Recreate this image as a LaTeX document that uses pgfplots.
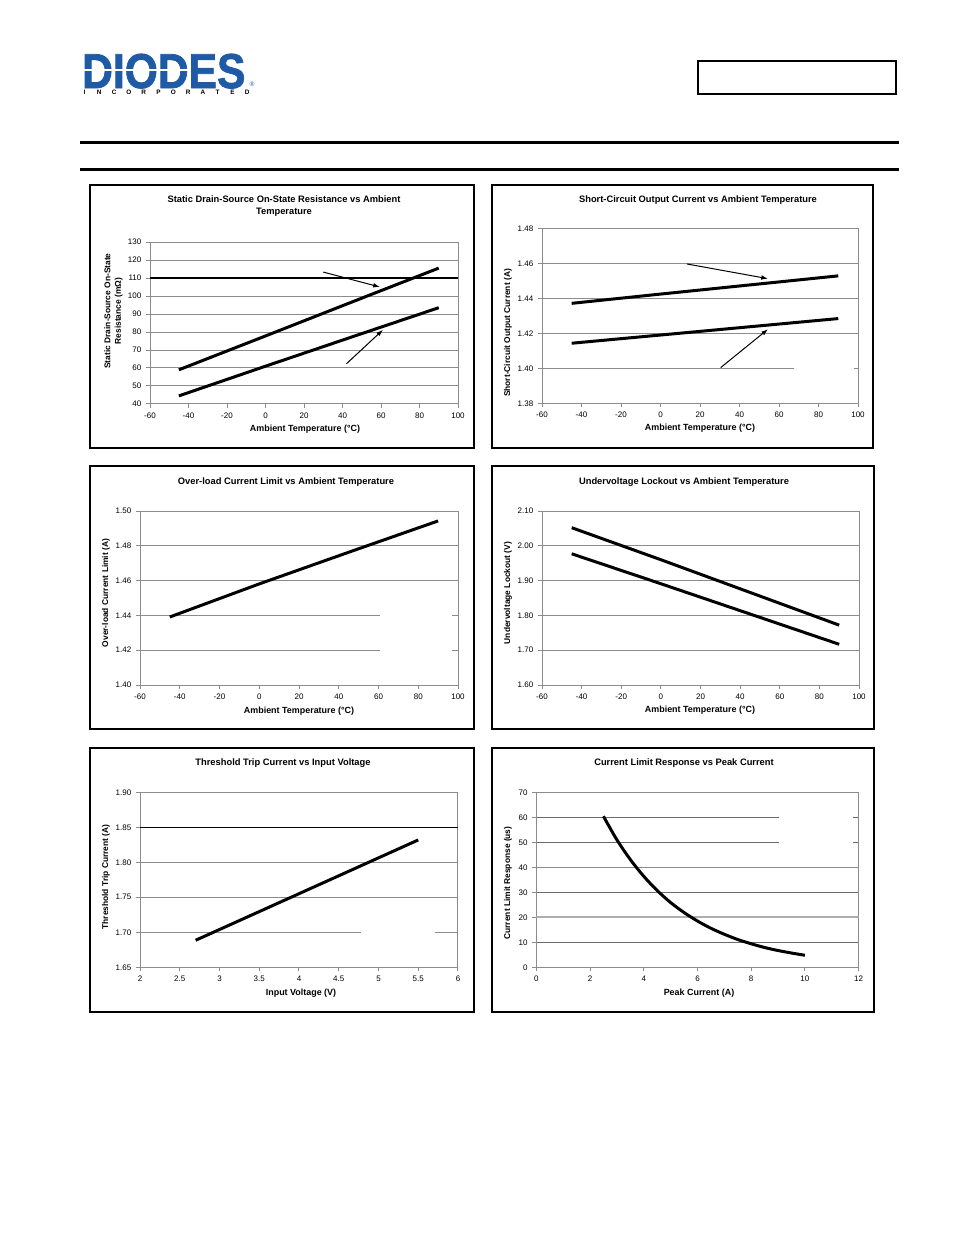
\documentclass[border=0pt]{standalone}
\usepackage{pgfplots}
\pgfplotsset{compat=1.18}
\usetikzlibrary{arrows.meta}
\usepackage{fontspec}
\setmainfont{Liberation Sans}
\newfontfamily\logofont{Liberation Sans Bold}[FakeBold=1.6]
\definecolor{gridgray}{HTML}{8C8C8C}
\definecolor{diodesblue}{HTML}{1E5AA5}
\newcommand{\tfont}{\fontsize{7}{8.8}\selectfont\bfseries}
\newcommand{\xlfont}{\fontsize{6.7}{8}\selectfont\bfseries}
\newcommand{\ylfont}{\fontsize{6.3}{7.8}\selectfont\bfseries}
\pgfplotsset{
  ds/.style={
    scale only axis, anchor=north west,
    axis line style={draw=gridgray, line width=0.75pt},
    ymajorgrids,
    grid style={draw=gridgray, line width=0.75pt},
    tick align=outside, major tick length=3pt,
    tick pos=left,
    tick style={draw=gridgray, line width=0.75pt},
    tick label style={font=\fontsize{6}{7}\selectfont, text=black},
    /pgf/number format/assume math mode=true,
  },
  twodec/.style={yticklabel style={/pgf/number format/.cd, fixed, fixed zerofill, precision=2}},
  curve/.style={black, line width=2.25pt, line join=round},
  arr/.style={black, line width=0.75pt, -{Latex[length=5pt,width=3.5pt]}},
}
\begin{document}
\begin{tikzpicture}
\begin{scope}[x=0.75pt, y=-0.75pt]
  \fill[white] (0,0) rectangle (954,1235);
  % header
  \node[anchor=base west, inner sep=0, text=diodesblue, font=\fontsize{36.7}{40}\logofont, xscale=0.87] at (82,88) {\raisebox{0pt}[\height][0pt]{DIODES}};
  \draw[white, line width=1.1pt] (83,70) -- (190,70);
  \foreach \l [count=\i from 0] in {I,N,C,O,R,P,O,R,A,T,E,D}
    \node[font=\fontsize{4.8}{5}\selectfont\bfseries, inner sep=0] at ({84.5+\i*14.8},92.5) {\l};
  \node[text=diodesblue, font=\fontsize{5}{5}\selectfont, inner sep=0] at (252,84) {®};
  \draw[line width=1pt] (698,61) rectangle (896,94);
  \draw[line width=2.25pt] (80,142) -- (899,142);
  \draw[line width=2.25pt] (80,169) -- (899,169);
  % frames
  \draw[line width=0.9pt] (90,185) rectangle (474,448);
  \draw[line width=0.9pt] (492,185) rectangle (873,448);
  \draw[line width=0.9pt] (90,466) rectangle (474,729);
  \draw[line width=0.9pt] (492,466) rectangle (874,729);
  \draw[line width=0.9pt] (90,748) rectangle (474,1012);
  \draw[line width=0.9pt] (492,748) rectangle (874,1012);
  % titles
  \node[font=\tfont, align=center] at (284,206) {Static Drain-Source On-State Resistance vs Ambient\\Temperature};
  \node[font=\tfont] at (698,200) {Short-Circuit Output Current vs Ambient Temperature};
  \node[font=\tfont] at (286,482) {Over-load Current Limit vs Ambient Temperature};
  \node[font=\tfont] at (684,482) {Undervoltage Lockout vs Ambient Temperature};
  \node[font=\tfont] at (283,763) {Threshold Trip Current vs Input Voltage};
  \node[font=\tfont] at (684,763) {Current Limit Response vs Peak Current};
  % x labels
  \node[font=\xlfont] at (305,429) {Ambient Temperature (°C)};
  \node[font=\xlfont] at (700,428.5) {Ambient Temperature (°C)};
  \node[font=\xlfont] at (299,711) {Ambient Temperature (°C)};
  \node[font=\xlfont] at (700,710.5) {Ambient Temperature (°C)};
  \node[font=\xlfont] at (301,993.5) {Input Voltage (V)};
  \node[font=\xlfont] at (699,993.5) {Peak Current (A)};
  % y labels
  \node[font=\ylfont, align=center, rotate=90] at (113.5,311) {Static Drain-Source On-State\\Resistance (mΩ)};
  \node[font=\ylfont, rotate=90] at (508,333) {Short-Circuit Output Current (A)};
  \node[font=\ylfont, rotate=90] at (106,593) {Over-load Current Limit (A)};
  \node[font=\ylfont, rotate=90] at (508,593) {Undervoltage Lockout (V)};
  \node[font=\ylfont, rotate=90] at (106,877) {Threshold Trip Current (A)};
  \node[font=\ylfont, rotate=90] at (508,883) {Current Limit Response (us)};
\end{scope}

% Chart 1
\begin{axis}[ds, at={(112.5pt,-181.5pt)}, width=231pt, height=121.5pt,
  xmin=-60, xmax=100, xtick={-60,-40,...,100},
  ymin=40, ymax=130, ytick={40,50,...,130}]
  \addplot[black, line width=1.1pt] coordinates {(-60,110) (100,110)};
  \addplot[curve] coordinates {(-45,59) (0,77.8) (45,96.7) (90,115.5)};
  \addplot[curve] coordinates {(-45,44.5) (0,61.0) (45,77.3) (90,93.5)};
  \addplot[arr] coordinates {(30,113.3) (59.4,105)};
  \addplot[arr] coordinates {(42,62.3) (61,81.2)};
\end{axis}

% Chart 2
\begin{axis}[ds, twodec, at={(406.5pt,-171.2pt)}, width=237pt, height=131.25pt,
  xmin=-60, xmax=100, xtick={-60,-40,...,100},
  ymin=1.38, ymax=1.48, ytick={1.38,1.40,1.42,1.44,1.46,1.48}]
  \fill[white] (axis cs:67.4,1.393) rectangle (axis cs:97.8,1.4095);
  \addplot[curve] coordinates {(-45,1.4371) (0,1.4424) (90,1.4528)};
  \addplot[curve] coordinates {(-45,1.4143) (0,1.4190) (90,1.4284)};
  \addplot[arr] coordinates {(13.4,1.4596) (54.4,1.4512)};
  \addplot[arr] coordinates {(30.5,1.4004) (54.4,1.4223)};
\end{axis}

% Chart 3
\begin{axis}[ds, twodec, at={(105pt,-383.25pt)}, width=238.5pt, height=130.5pt,
  xmin=-60, xmax=100, xtick={-60,-40,...,100},
  ymin=1.40, ymax=1.50, ytick={1.40,1.42,1.44,1.46,1.48,1.50}]
  \fill[white] (axis cs:61,1.415) rectangle (axis cs:97,1.447);
  \addplot[curve] coordinates {(-45,1.4391) (0,1.4581) (45,1.4763) (90,1.4943)};
\end{axis}

% Chart 4
\begin{axis}[ds, twodec, at={(406.5pt,-383.25pt)}, width=237.75pt, height=130.5pt,
  xmin=-60, xmax=100, xtick={-60,-40,...,100},
  ymin=1.60, ymax=2.10, ytick={1.60,1.70,1.80,1.90,2.00,2.10}]
  \addplot[curve] coordinates {(-45,2.052) (0,1.960) (45,1.866) (90,1.772)};
  \addplot[curve] coordinates {(-45,1.977) (0,1.891) (45,1.804) (90,1.717)};
\end{axis}

% Chart 5
\begin{axis}[ds, twodec, at={(105pt,-594.2pt)}, width=238.5pt, height=131.25pt,
  xmin=2, xmax=6, xtick={2,2.5,...,6},
  ymin=1.65, ymax=1.90, ytick={1.65,1.70,1.75,1.80,1.85,1.90}]
  \fill[white] (axis cs:4.785,1.685) rectangle (axis cs:5.707,1.715);
  \addplot[black, line width=1.1pt] coordinates {(2,1.85) (6,1.85)};
  \addplot[curve] coordinates {(2.7,1.6886) (4,1.7551) (5.5,1.8319)};
\end{axis}

% Chart 6
\begin{axis}[ds, at={(402.2pt,-594.2pt)}, width=241.8pt, height=131.25pt,
  xmin=0, xmax=12, xtick={0,2,...,12},
  ymin=0, ymax=70, ytick={0,10,...,70},
  grid style={draw=gray!85!black, line width=0.75pt}]
  \addplot[gridgray!70, line width=1.3pt] coordinates {(0,20) (12,20)};
  \addplot[gridgray, line width=0.75pt] coordinates {(0,40) (12,40)};
  \fill[white] (axis cs:9.02,47) rectangle (axis cs:11.79,63);
  \addplot[curve, smooth] coordinates {(2.5,60.4) (3.0,51.0) (3.5,43.1) (4.0,36.4) (4.5,30.7) (5.0,25.9) (5.5,21.9) (6.0,18.5) (6.5,15.6) (7.0,13.2) (7.5,11.1) (8.0,9.4) (8.5,7.9) (9.0,6.7) (9.5,5.7) (10.0,4.8)};
\end{axis}
\end{tikzpicture}
\end{document}
